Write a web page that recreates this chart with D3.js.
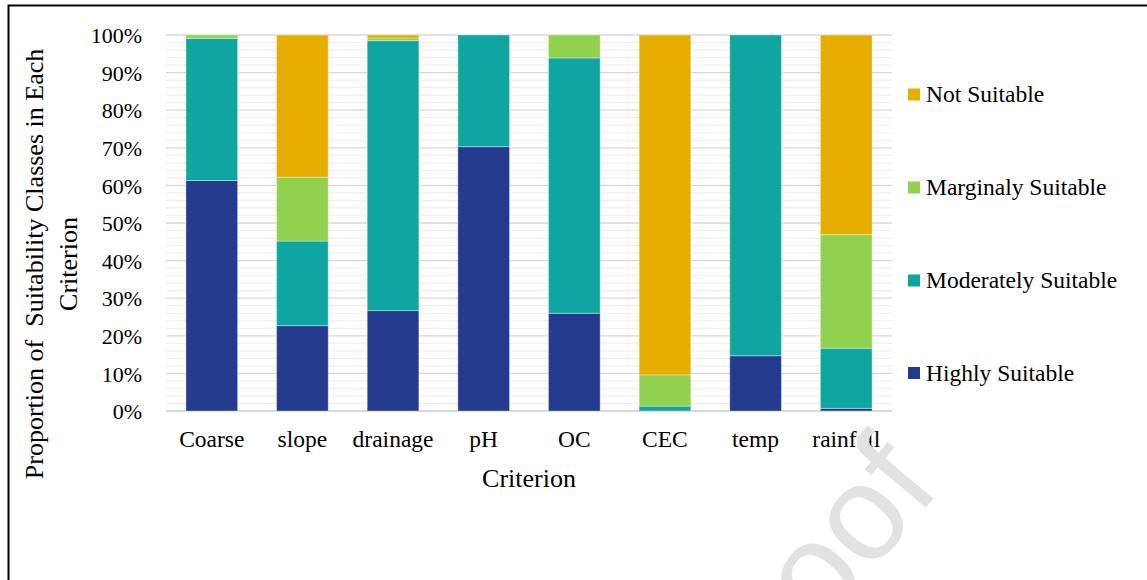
<!DOCTYPE html>
<html>
<head>
<meta charset="utf-8">
<script src="https://cdn.jsdelivr.net/npm/d3@7"></script>
<style>
  html, body { margin: 0; padding: 0; background: #fff; }
  svg text { font-family: "Liberation Serif", "Times New Roman", serif; fill: #000; }
</style>
</head>
<body>
<svg id="chart" width="1147" height="580"></svg>
<script>
const categories = ["Coarse", "slope", "drainage", "pH", "OC", "CEC", "temp", "rainfall"];
const highlySuitable     = [61.3, 22.7, 26.7, 70.3, 26.0, 0.0, 14.7, 0.7];
const moderatelySuitable = [37.8, 22.5, 71.8, 29.7, 67.9, 1.3, 85.3, 16.0];
const marginalySuitable  = [0.9, 17.0, 0.7, 0.0, 6.1, 8.3, 0.0, 30.2];
const notSuitable        = [0.0, 37.8, 0.8, 0.0, 0.0, 90.4, 0.0, 53.1];
const seriesNames = ["Highly Suitable", "Moderately Suitable", "Marginaly Suitable", "Not Suitable"];
const seriesColors = ["#253b8e", "#0fa6a2", "#92d14f", "#e5ae00"];
const yTicks = [0, 10, 20, 30, 40, 50, 60, 70, 80, 90, 100];

const serif = '"Liberation Serif", "Times New Roman", serif';
const svg = d3.select("#chart");

// frame
svg.append("path")
  .attr("d", "M8.5,580 L8.5,5.5 L1147,5.5")
  .attr("fill", "none").attr("stroke", "#000").attr("stroke-width", 2);

const x = d3.scaleBand().domain(categories).range([166, 892]).paddingInner(0.43).paddingOuter(0.22);
const y = d3.scaleLinear().domain([0, 100]).range([411, 35]);

// minor gridlines every 2%
const minor = d3.range(2, 100, 2).filter(v => v % 10 !== 0);
svg.append("g").selectAll("line").data(minor).join("line")
  .attr("x1", 166).attr("x2", 892)
  .attr("y1", d => y(d)).attr("y2", d => y(d))
  .attr("stroke", "#efefef").attr("stroke-width", 1.2);

// major gridlines
svg.append("g").selectAll("line").data(yTicks).join("line")
  .attr("x1", 166).attr("x2", 892)
  .attr("y1", d => y(d)).attr("y2", d => y(d))
  .attr("stroke", "#d9d9d9").attr("stroke-width", d => d === 0 ? 2 : 1.3);

// stacked data
const rows = categories.map((c, i) => ({
  cat: c,
  "Highly Suitable": highlySuitable[i],
  "Moderately Suitable": moderatelySuitable[i],
  "Marginaly Suitable": marginalySuitable[i],
  "Not Suitable": notSuitable[i]
}));
const stack = d3.stack().keys(seriesNames)(rows);

svg.append("g").selectAll("g").data(stack).join("g")
  .attr("fill", (d, i) => seriesColors[i])
  .selectAll("rect").data(d => d.filter(p => p[1] - p[0] > 0)).join("rect")
  .attr("x", d => x(d.data.cat))
  .attr("width", x.bandwidth())
  .attr("y", d => y(d[1]))
  .attr("height", d => y(d[0]) - y(d[1]))
  .attr("stroke", "rgba(255,255,255,0.35)")
  .attr("stroke-width", 1);

// y axis labels
const yAxis = d3.axisLeft(y).tickValues(yTicks).tickFormat(d => d + "%").tickSize(0).tickPadding(0);
const gy = svg.append("g").attr("transform", "translate(142,0)").call(yAxis)
  .attr("font-family", serif);
gy.select(".domain").remove();
gy.selectAll("text")
  .attr("font-family", serif).style("font-family", serif)
  .style("font-size", "22px").attr("fill", "#000").attr("dy", "0.35em");

// x axis labels
const xAxis = d3.axisBottom(x).tickSize(0).tickPadding(0);
const gx = svg.append("g").attr("transform", "translate(0,430)").call(xAxis)
  .attr("font-family", serif);
gx.select(".domain").remove();
gx.selectAll("text")
  .attr("font-family", serif).style("font-family", serif)
  .style("font-size", "23.5px").attr("fill", "#000").attr("dy", "0.71em");

// x title
svg.append("text").attr("x", 529).attr("y", 487).attr("text-anchor", "middle")
  .style("font-family", serif).style("font-size", "26px").text("Criterion");

// y title
const yt = svg.append("text").attr("transform", "translate(43,264) rotate(-90)")
  .attr("text-anchor", "middle").style("font-family", serif)
  .style("font-size", "26px").style("white-space", "pre");
yt.append("tspan").attr("x", 0).attr("y", 0).text("Proportion of  Suitability Classes in Each");
yt.append("tspan").attr("x", 0).attr("y", 33.5).text("Criterion");

// legend
const legendOrder = [3, 2, 1, 0];
const legendY = [94.5, 187.5, 280.5, 373];
const lg = svg.append("g").selectAll("g").data(legendOrder).join("g")
  .attr("transform", (d, i) => `translate(908,${legendY[i]})`);
lg.append("rect").attr("x", 0).attr("y", -6).attr("width", 12).attr("height", 12)
  .attr("fill", d => seriesColors[d]);
lg.append("text").attr("x", 18).attr("y", 7.5)
  .style("font-family", serif).style("font-size", "23.5px")
  .text(d => seriesNames[d]);

// watermark
svg.append("text")
  .attr("transform", "translate(942,488) rotate(-50)")
  .attr("text-anchor", "end")
  .style("font-family", '"Liberation Sans", Arial, sans-serif')
  .style("font-size", "135px")
  .style("fill", "#e2e2e2")
  .text("Journal Pre-proof");
</script>
</body>
</html>
